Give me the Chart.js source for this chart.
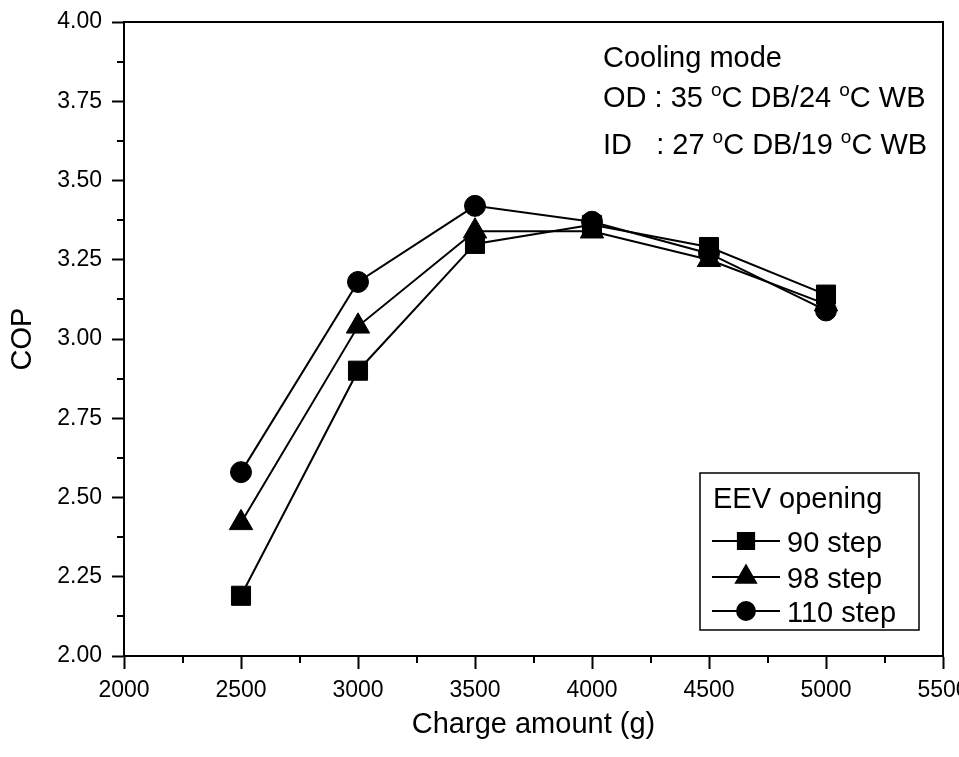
<!DOCTYPE html>
<html>
<head>
<meta charset="utf-8">
<script src="https://cdn.jsdelivr.net/npm/chart.js@4/dist/chart.umd.min.js"></script>
<style>
  html, body { margin: 0; padding: 0; background: #fff; overflow: hidden; }
  #wrap { width: 959px; height: 757px; position: relative; }
</style>
</head>
<body>
<div id="wrap"><canvas id="c"></canvas></div>
<script>
// charge amount (g) and COP for each EEV opening
const charge = [2500, 3000, 3500, 4000, 4500, 5000];
const cop90 = [2.19, 2.90, 3.30, 3.36, 3.29, 3.14];
const cop98 = [2.42, 3.04, 3.34, 3.34, 3.25, 3.11];
const cop110 = [2.58, 3.18, 3.42, 3.37, 3.27, 3.09];
const seriesNames = ['90 step', '98 step', '110 step'];
const legendTitle = 'EEV opening';
const noteLines = [
  [['Cooling mode', false]],
  [['OD : 35 ', false], ['o', true], ['C DB/24 ', false], ['o', true], ['C WB', false]],
  [['ID   : 27 ', false], ['o', true], ['C DB/19 ', false], ['o', true], ['C WB', false]]
];

const FONT = "'Liberation Sans', Arial, Helvetica, sans-serif";

function pts(ys) {
  return charge.map((x, i) => ({x: x, y: ys[i]}));
}

function mkSet(label, ys, style, r) {
  return {
    label: label,
    data: pts(ys),
    borderColor: '#000',
    backgroundColor: '#000',
    borderWidth: 2,
    pointStyle: style,
    pointRadius: r,
    pointHoverRadius: r,
    pointBackgroundColor: '#000',
    pointBorderColor: '#000',
    pointBorderWidth: 1,
    tension: 0
  };
}

// frame, minor ticks, note text and boxed legend
const extras = {
  id: 'extras',
  afterDraw(chart) {
    const ctx = chart.ctx;
    const a = chart.chartArea;
    const xs = chart.scales.x, ys = chart.scales.y;
    ctx.save();
    ctx.strokeStyle = '#000';
    ctx.lineWidth = 2;
    ctx.beginPath();
    ctx.moveTo(a.left, a.top); ctx.lineTo(a.right, a.top); ctx.lineTo(a.right, a.bottom);
    ctx.stroke();

    // minor ticks
    ctx.beginPath();
    for (let v = 2.125; v < 4; v += 0.25) {
      const p = Math.round(ys.getPixelForValue(v));
      ctx.moveTo(a.left - 7, p); ctx.lineTo(a.left, p);
    }
    for (let v = 2250; v < 5500; v += 500) {
      const p = Math.round(xs.getPixelForValue(v));
      ctx.moveTo(p, a.bottom); ctx.lineTo(p, a.bottom + 7);
    }
    ctx.stroke();

    // note
    ctx.fillStyle = '#000';
    ctx.textBaseline = 'alphabetic';
    ctx.textAlign = 'left';
    const baselines = [67, 107, 154];
    noteLines.forEach((line, i) => {
      let x = 603;
      line.forEach(([t, sup]) => {
        if (sup) {
          ctx.font = '19px ' + FONT;
          ctx.fillText(t, x, baselines[i] - 11);
        } else {
          ctx.font = '29px ' + FONT;
          ctx.fillText(t, x, baselines[i]);
        }
        x += ctx.measureText(t).width;
      });
    });

    // legend box
    ctx.lineWidth = 1.5;
    ctx.strokeRect(700, 473, 219, 157);
    ctx.font = '29px ' + FONT;
    ctx.fillText(legendTitle, 713, 508);
    const rowY = [541, 577, 611];
    chart.data.datasets.forEach((ds, i) => {
      const y = rowY[i];
      ctx.lineWidth = 2;
      ctx.beginPath();
      ctx.moveTo(712, y); ctx.lineTo(780, y);
      ctx.stroke();
      Chart.helpers.drawPoint(ctx, {
        pointStyle: ds.pointStyle,
        radius: ds.pointRadius * 0.85,
        borderWidth: 1,
        rotation: 0
      }, 746, y);
      ctx.fill();
      ctx.fillText(seriesNames[i], 787, y + 11);
    });
    ctx.restore();
  }
};

new Chart(document.getElementById('c'), {
  type: 'line',
  data: {
    datasets: [
      mkSet(seriesNames[0], cop90, 'rect', 13.5),
      mkSet(seriesNames[1], cop98, 'triangle', 13.5),
      mkSet(seriesNames[2], cop110, 'circle', 10.5)
    ]
  },
  options: {
    responsive: true,
    maintainAspectRatio: false,
    animation: false,
    layout: { padding: { top: 22, right: 16, left: 0, bottom: 0 } },
    plugins: {
      legend: { display: false },
      tooltip: { enabled: false }
    },
    scales: {
      x: {
        type: 'linear',
        min: 2000, max: 5500,
        ticks: {
          stepSize: 500,
          color: '#000',
          font: { family: FONT, size: 23 },
          padding: 8,
          maxRotation: 0,
          callback: v => String(v)
        },
        grid: { drawOnChartArea: false, tickLength: 13, tickWidth: 2, tickColor: '#000' },
        border: { color: '#000', width: 2 },
        title: {
          display: true, text: 'Charge amount (g)', color: '#000',
          font: { family: FONT, size: 29 }, padding: { top: 0, bottom: 15 }
        },
        afterFit(s) { s.height = 101; s.paddingLeft = 0; s.paddingRight = 0; }
      },
      y: {
        min: 2, max: 4,
        ticks: {
          stepSize: 0.25,
          color: '#000',
          font: { family: FONT, size: 23 },
          padding: 10,
          callback: v => v.toFixed(2)
        },
        grid: { drawOnChartArea: false, tickLength: 12, tickWidth: 2, tickColor: '#000' },
        border: { color: '#000', width: 2 },
        title: {
          display: true, text: 'COP', color: '#000',
          font: { family: FONT, size: 29 }, padding: { top: 6, bottom: 0 }
        },
        afterFit(s) { s.width = 124; s.paddingTop = 0; s.paddingBottom = 0; }
      }
    }
  },
  plugins: [extras]
});
</script>
</body>
</html>
